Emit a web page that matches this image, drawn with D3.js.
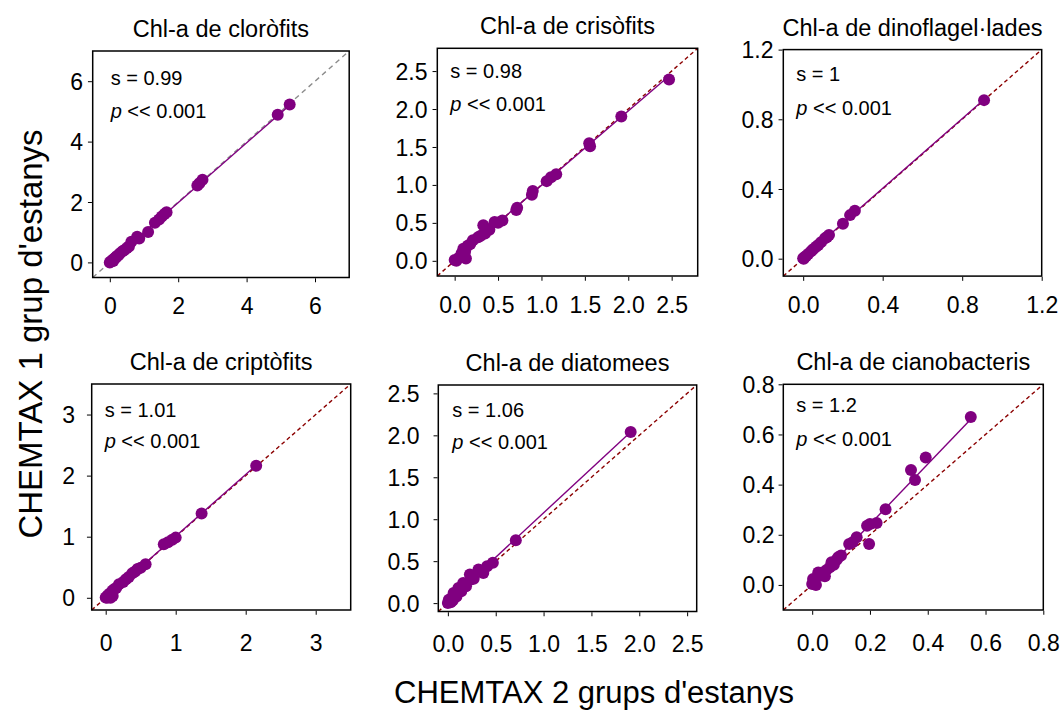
<!DOCTYPE html>
<html>
<head>
<meta charset="utf-8">
<script src="https://cdn.jsdelivr.net/npm/d3@7"></script>
<style>
  body { margin: 0; background: #fff; }
  svg { display: block; }
  text { font-family: "Liberation Sans", Arial, Helvetica, sans-serif; fill: #000; }
</style>
</head>
<body>
<svg id="chart" width="1060" height="710"></svg>
<script>
// Pigment group titles, one per panel
const panelTitles = [
  "Chl-a de cloròfits", "Chl-a de crisòfits", "Chl-a de dinoflagel·lades",
  "Chl-a de criptòfits", "Chl-a de diatomees", "Chl-a de cianobacteris"
];
// Regression slopes printed in each panel
const slopeLabels = ["0.99", "0.98", "1", "1.01", "1.06", "1.2"];
const slopes = [0.99, 0.98, 1, 1.01, 1.06, 1.2];
const pText = " << 0.001";

// Axis domains (same for x and y in each panel) and tick values
const axisDomains = [[-0.5, 7], [-0.2, 2.8], [-0.1, 1.2], [-0.2, 3.5], [-0.1, 2.6], [-0.1, 0.8]];
const tickValues = [
  [0, 2, 4, 6], [0, 0.5, 1, 1.5, 2, 2.5], [0, 0.4, 0.8, 1.2],
  [0, 1, 2, 3], [0, 0.5, 1, 1.5, 2, 2.5], [0, 0.2, 0.4, 0.6, 0.8]
];
const tickFormats = ["d", ".1f", ".1f", "d", ".1f", ".1f"];

// Chl-a (CHEMTAX 2 groups = x, CHEMTAX 1 group = y)
const cloroX = [5.26, 4.91, 2.71, 2.62, 2.56, 1.66, 1.6, 1.52, 1.44, 1.32, 1.12, 0.86, 0.8, 0.63, 0.56, 0.5, 0.42, 0.37, 0.3, 0.25, 0.2, 0.15, 0.12, 0.08, 0.05, 0.03, 0.0, 0.1, 0.18];
const cloroY = [5.23, 4.89, 2.74, 2.62, 2.55, 1.66, 1.6, 1.52, 1.42, 1.31, 1.01, 0.79, 0.85, 0.68, 0.53, 0.48, 0.4, 0.37, 0.3, 0.24, 0.2, 0.14, 0.11, 0.08, 0.04, 0.03, 0.0, 0.05, 0.16];

const crisoX = [2.47, 1.92, 1.55, 1.56, 1.17, 1.11, 1.06, 0.90, 0.89, 0.72, 0.71, 0.55, 0.5, 0.46, 0.33, 0.40, 0.35, 0.30, 0.27, 0.21, 0.18, 0.15, 0.10, 0.12, 0.08, 0.1, 0.05, 0.0, 0.02, 0.13];
const crisoY = [2.39, 1.90, 1.55, 1.51, 1.14, 1.10, 1.05, 0.92, 0.87, 0.70, 0.67, 0.53, 0.5, 0.51, 0.47, 0.41, 0.36, 0.33, 0.31, 0.27, 0.22, 0.2, 0.16, 0.12, 0.10, 0.05, 0.04, 0.01, 0.0, 0.03];

const dinoX = [0.91, 0.26, 0.236, 0.20, 0.13, 0.12, 0.11, 0.09, 0.076, 0.065, 0.05, 0.04, 0.025, 0.015, 0.008, 0.0, 0.003];
const dinoY = [0.91, 0.275, 0.25, 0.20, 0.136, 0.125, 0.117, 0.095, 0.079, 0.068, 0.054, 0.043, 0.027, 0.016, 0.01, 0.002, 0.0];

const criptoX = [2.15, 1.37, 1.0, 0.95, 0.89, 0.83, 0.57, 0.50, 0.455, 0.42, 0.38, 0.33, 0.29, 0.25, 0.19, 0.15, 0.12, 0.095, 0.06, 0.03, 0.0, 0.07, 0.1, 0.02];
const criptoY = [2.16, 1.38, 0.985, 0.95, 0.91, 0.876, 0.55, 0.49, 0.47, 0.43, 0.40, 0.34, 0.305, 0.26, 0.22, 0.16, 0.14, 0.115, 0.07, 0.04, 0.005, 0.0, 0.03, 0.0];

const diatoX = [1.91, 0.71, 0.47, 0.41, 0.37, 0.32, 0.23, 0.24, 0.27, 0.16, 0.19, 0.11, 0.14, 0.06, 0.09, 0.04, 0.01, 0.0, 0.03, 0.05, 0.1];
const diatoY = [2.04, 0.75, 0.48, 0.44, 0.36, 0.40, 0.34, 0.28, 0.29, 0.24, 0.2, 0.18, 0.14, 0.12, 0.08, 0.06, 0.04, 0.0, 0.01, 0.03, 0.12];

const cianoX = [0.549, 0.393, 0.342, 0.356, 0.254, 0.223, 0.20, 0.19, 0.197, 0.154, 0.14, 0.128, 0.10, 0.085, 0.067, 0.061, 0.021, 0.027, 0.003, 0.0, 0.013, 0.044, 0.075, 0.09, 0.05, 0.035];
const cianoY = [0.67, 0.508, 0.458, 0.418, 0.302, 0.247, 0.243, 0.236, 0.163, 0.19, 0.17, 0.163, 0.117, 0.10, 0.09, 0.07, 0.05, 0.037, 0.024, 0.004, 0.0, 0.035, 0.08, 0.11, 0.06, 0.05];

const seriesX = [cloroX, crisoX, dinoX, criptoX, diatoX, cianoX];
const seriesY = [cloroY, crisoY, dinoY, criptoY, diatoY, cianoY];

// Plot frames in page pixels: [left, right, top, bottom]
const frames = [
  [92.7, 349.2, 51, 277.5], [437.3, 697.7, 48.3, 276], [783.3, 1041.7, 49.6, 276.1],
  [91.7, 350.7, 384, 610], [438.3, 696.7, 385, 611.5], [783.3, 1043.3, 384.3, 610]
];
const yLabelPad = [9, 9, 9, 16, 18, 8];
const xLabelDrop = [36, 36, 36, 40, 40, 40];
const noteOffset = [[18, 34, 67], [13, 30, 63], [13, 31, 65], [13, 33, 64], [14, 32, 64], [13, 28, 62]];
const diagColors = ["#8c8c8c", "#8b0000", "#8b0000", "#8b0000", "#8b0000", "#8b0000"];

const purple = "#800080";
const svg = d3.select("#chart");

panelTitles.forEach((title, i) => {
  const [l, r, t, b] = frames[i];
  const dom = axisDomains[i];
  const x = d3.scaleLinear().domain(dom).range([l, r]);
  const y = d3.scaleLinear().domain(dom).range([b, t]);
  const g = svg.append("g");
  const fmt = d3.format(tickFormats[i]);

  // 1:1 reference line across the whole frame
  g.append("line")
    .attr("x1", x(dom[0])).attr("y1", y(dom[0]))
    .attr("x2", x(dom[1])).attr("y2", y(dom[1]))
    .attr("stroke", diagColors[i]).attr("stroke-width", 1.4)
    .attr("stroke-dasharray", i === 0 ? "5,4" : "4,3");

  // Regression line with the printed slope through the data centroid
  const xs = seriesX[i], ys = seriesY[i];
  const mx = d3.mean(xs), my = d3.mean(ys);
  const s = slopes[i];
  const b0 = my - s * mx;
  const [xmin, xmax] = d3.extent(xs);
  g.append("line")
    .attr("x1", x(xmin)).attr("y1", y(b0 + s * xmin))
    .attr("x2", x(xmax)).attr("y2", y(b0 + s * xmax))
    .attr("stroke", purple).attr("stroke-width", 1.4);

  // Points
  g.selectAll("circle.pt").data(xs.map((v, k) => [v, ys[k]]))
    .join("circle").attr("class", "pt")
    .attr("cx", d => x(d[0])).attr("cy", d => y(d[1]))
    .attr("r", 6).attr("fill", purple);

  // Frame
  g.append("rect")
    .attr("x", l).attr("y", t).attr("width", r - l).attr("height", b - t)
    .attr("fill", "none").attr("stroke", "#000").attr("stroke-width", 1.5);

  // Bottom axis
  const xAxis = d3.axisBottom(x).tickValues(tickValues[i]).tickFormat(fmt)
    .tickSizeInner(4).tickSizeOuter(0);
  const gx = g.append("g").attr("transform", `translate(0,${b + 0.75})`).call(xAxis);
  gx.select(".domain").remove();
  gx.selectAll("line").attr("stroke", "#000").attr("stroke-width", 1);
  gx.selectAll("text").attr("font-size", 23).attr("dy", null)
    .attr("y", xLabelDrop[i]);

  // Left axis
  const yAxis = d3.axisLeft(y).tickValues(tickValues[i]).tickFormat(fmt)
    .tickSizeInner(4).tickSizeOuter(0).tickPadding(yLabelPad[i] - 4);
  const gy = g.append("g").attr("transform", `translate(${l - 0.75},0)`).call(yAxis);
  gy.select(".domain").remove();
  gy.selectAll("line").attr("stroke", "#000").attr("stroke-width", 1);
  gy.selectAll("text").attr("font-size", 23).attr("dy", "0.35em");

  // Panel title
  g.append("text")
    .attr("x", (l + r) / 2).attr("y", t - 14)
    .attr("text-anchor", "middle").attr("font-size", 23.5)
    .text(title);

  // Slope and significance notes
  const [ox, oy1, oy2] = noteOffset[i];
  g.append("text").attr("x", l + ox).attr("y", t + oy1).attr("font-size", 20)
    .text("s = " + slopeLabels[i]);
  const pt = g.append("text").attr("x", l + ox).attr("y", t + oy2).attr("font-size", 20);
  pt.append("tspan").attr("font-style", "italic").text("p");
  pt.append("tspan").text(pText);
});

// Shared axis titles
svg.append("text")
  .attr("x", 594).attr("y", 703)
  .attr("text-anchor", "middle").attr("font-size", 31)
  .text("CHEMTAX 2 grups d'estanys");

svg.append("text")
  .attr("transform", "translate(42,334) rotate(-90)")
  .attr("text-anchor", "middle").attr("font-size", 33)
  .text("CHEMTAX 1 grup d'estanys");
</script>
</body>
</html>
